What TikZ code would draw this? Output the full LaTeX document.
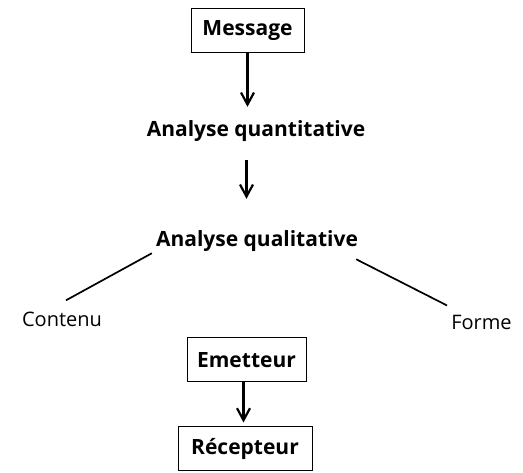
\documentclass[tikz,border=0pt]{standalone}
\usepackage{fontspec}
\setmainfont{Open Sans}
\usetikzlibrary{arrows.meta}
\tikzset{
  titre/.style={font=\bfseries\fontsize{21}{23}\selectfont, inner sep=4pt},
  cadre/.style={titre, draw, line width=1pt, minimum height=44pt},
  branche/.style={font=\fontsize{20}{22}\selectfont, inner sep=4pt},
  trait/.style={line width=1.7pt},
  fleche/.style={line width=2.4pt, -{Straight Barb[length=12pt,width=13pt,line width=2.2pt]}}
}
\begin{document}
\begin{tikzpicture}[x=1pt,y=1pt]
\useasboundingbox (0,0) rectangle (523,473);

\node [cadre, minimum width=113pt] (msg) at (247.5,442) {Message};
\node [titre, anchor=base] (quanti) at (256,336) {Analyse quantitative};
\node [titre, anchor=base] (quali) at (257,226) {Analyse qualitative};

\node [branche, anchor=base] (contenu) at (62,146) {Contenu};
\node [branche, anchor=base] (forme) at (481.5,143) {Forme};

\node [cadre, minimum width=119pt] (emet) at (246.5,113) {Emetteur};
\node [cadre, minimum width=134pt] (recep) at (245,24) {Récepteur};

\draw [fleche, shorten >=10pt] (msg) -- (msg |- quanti.north);
\draw [fleche, shorten <=14pt, shorten >=28pt] ([xshift=-1pt]quanti.south -| msg) -- ([xshift=-1pt]quali.north -| msg);

\draw [trait] ([shift={(0,3)}]quali.south west) -- ([shift={(4,8)}]contenu.north);
\draw [trait] ([shift={(-6,-3)}]quali.south east) -- ([yshift=6pt]forme.north west);

\draw [fleche, shorten >=4pt] ([xshift=-3pt]emet.south) -- ([xshift=-3pt]emet.south |- recep.north);
\end{tikzpicture}
\end{document}
